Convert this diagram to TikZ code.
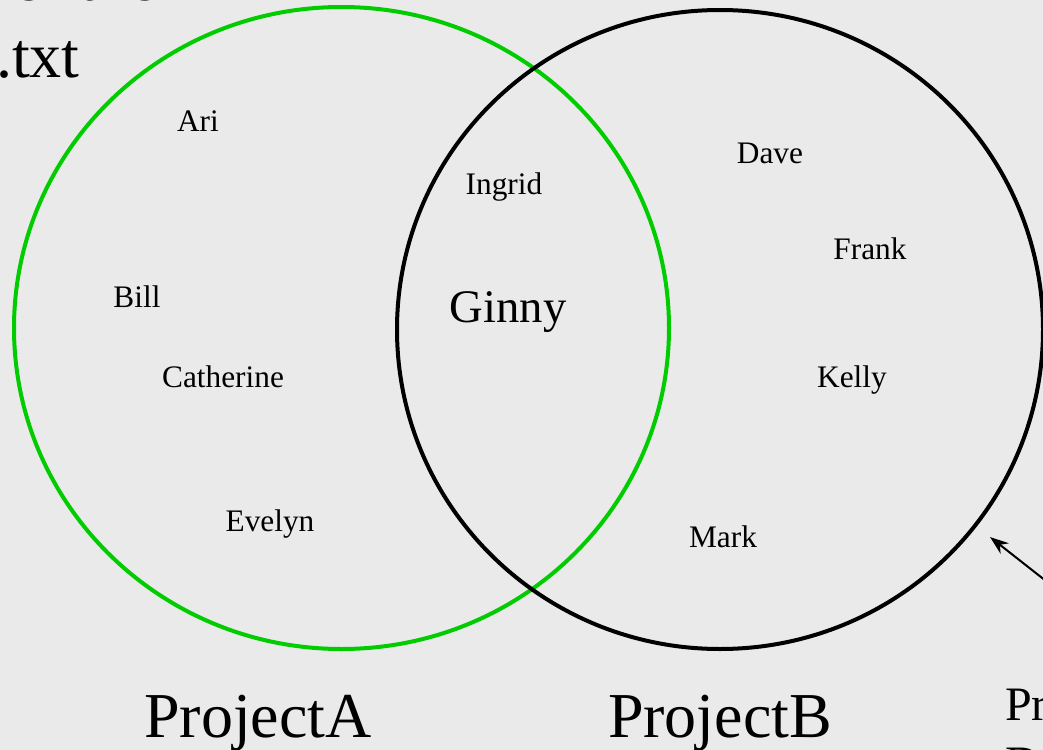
\documentclass[tikz,border=0pt]{standalone}
\usepackage{fontspec}
\setmainfont{Liberation Serif}
\usetikzlibrary{arrows.meta}
\definecolor{bg}{HTML}{EAEAEA}
\definecolor{setgreen}{RGB}{0,204,0}
\begin{document}
\begin{tikzpicture}[x=0.75pt,y=-0.75pt,
  member/.style={font=\fontsize{23.5}{28}\selectfont, anchor=base, inner sep=0pt},
  bigmember/.style={font=\fontsize{35}{42}\selectfont, anchor=base, inner sep=0pt},
  setlabel/.style={font=\fontsize{48}{58}\selectfont, anchor=base, inner sep=0pt},
  sidelabel/.style={font=\fontsize{36}{44}\selectfont, anchor=base west, inner sep=0pt},
  setA/.style={draw=setgreen, line width=3pt},
  setB/.style={draw=black, line width=3pt},
  pointer/.style={draw=black, line width=1.5pt, -{Stealth[length=14pt,width=10pt]}}]
\useasboundingbox (0,0) rectangle (1043,750);
\fill[bg] (0,0) rectangle (1043,750);
% sets
\draw[setA] (341.5,328) ellipse [x radius=327.5, y radius=321];
\draw[setB] (720,329.5) ellipse [x radius=323, y radius=319.5];
% cut-off heading
\node[setlabel, anchor=base east] (h1) at (158,0) {er the};
\node[setlabel, anchor=base east] (h2) at (80,77) {.txt};
% members
\node[member] (ari) at (198,131) {Ari};
\node[member] (ingrid) at (504,194) {Ingrid};
\node[member] (dave) at (770,163) {Dave};
\node[member] (frank) at (870,259) {Frank};
\node[member] (bill) at (137,307) {Bill};
\node[bigmember] (ginny) at (508,322) {Ginny};
\node[member] (catherine) at (223,387) {Catherine};
\node[member] (kelly) at (852,387) {Kelly};
\node[member] (evelyn) at (270,531) {Evelyn};
\node[member] (mark) at (723,547) {Mark};
% set labels
\node[setlabel] (pa) at (258,737) {ProjectA};
\node[setlabel] (pb) at (720,737) {ProjectB};
\node[sidelabel] (s1) at (1005,720) {Pr};
\node[sidelabel] (s2) at (1005,779) {D};
% pointer
\coordinate (ptail) at (1060,592);
\coordinate (phead) at (990,537);
\draw[pointer] (ptail) -- (phead);
\end{tikzpicture}
\end{document}
